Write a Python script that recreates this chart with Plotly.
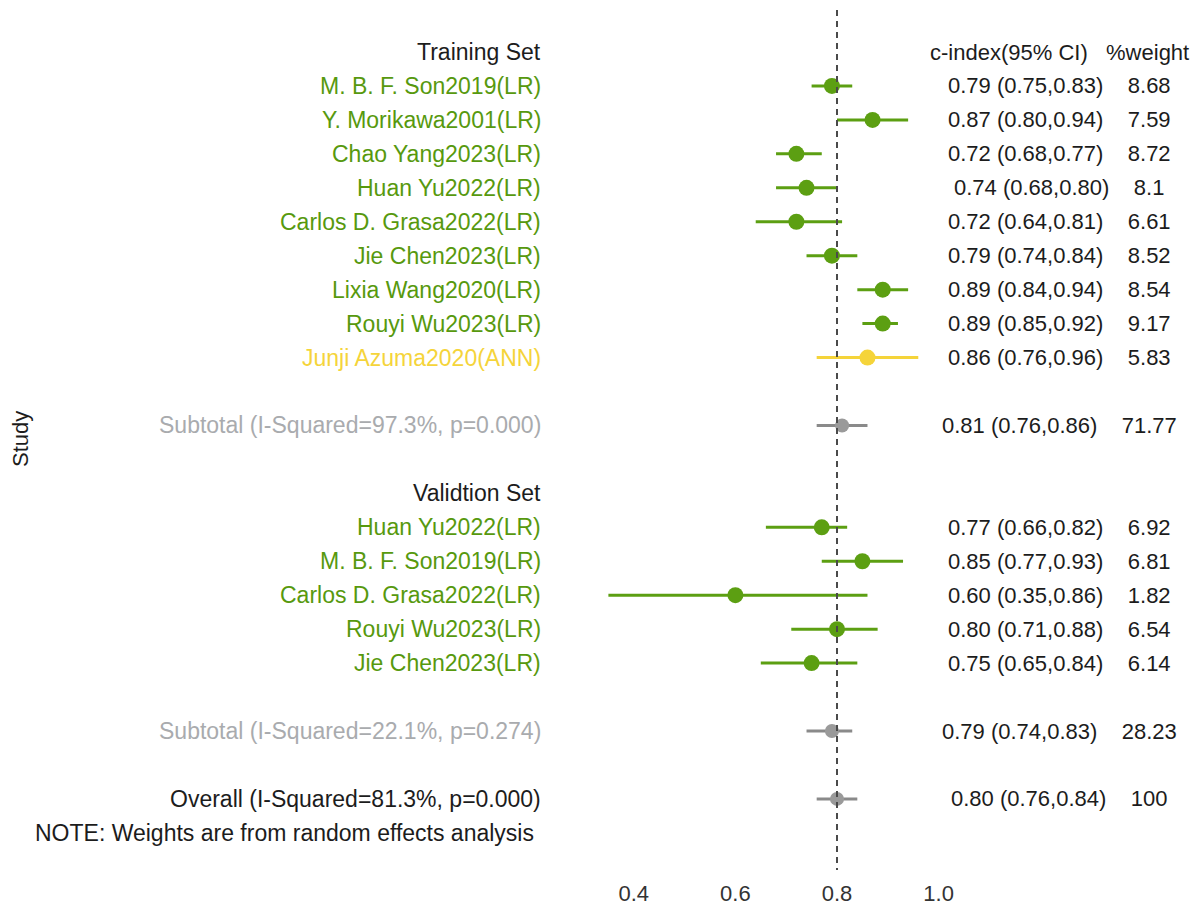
import plotly.graph_objects as go

# ---------------- data ----------------
train_studies = ["M. B. F. Son2019(LR)", "Y. Morikawa2001(LR)", "Chao Yang2023(LR)",
                 "Huan Yu2022(LR)", "Carlos D. Grasa2022(LR)", "Jie Chen2023(LR)",
                 "Lixia Wang2020(LR)", "Rouyi Wu2023(LR)", "Junji Azuma2020(ANN)"]
train_model = ["LR", "LR", "LR", "LR", "LR", "LR", "LR", "LR", "ANN"]
train_est = [0.79, 0.87, 0.72, 0.74, 0.72, 0.79, 0.89, 0.89, 0.86]
train_lo = [0.75, 0.80, 0.68, 0.68, 0.64, 0.74, 0.84, 0.85, 0.76]
train_hi = [0.83, 0.94, 0.77, 0.80, 0.81, 0.84, 0.94, 0.92, 0.96]
train_w = [8.68, 7.59, 8.72, 8.1, 6.61, 8.52, 8.54, 9.17, 5.83]

valid_studies = ["Huan Yu2022(LR)", "M. B. F. Son2019(LR)", "Carlos D. Grasa2022(LR)",
                 "Rouyi Wu2023(LR)", "Jie Chen2023(LR)"]
valid_model = ["LR", "LR", "LR", "LR", "LR"]
valid_est = [0.77, 0.85, 0.60, 0.80, 0.75]
valid_lo = [0.66, 0.77, 0.35, 0.71, 0.65]
valid_hi = [0.82, 0.93, 0.86, 0.88, 0.84]
valid_w = [6.92, 6.81, 1.82, 6.54, 6.14]

sub_labels = ["Subtotal (I-Squared=97.3%, p=0.000)", "Subtotal (I-Squared=22.1%, p=0.274)"]
sub_est = [0.81, 0.79]
sub_lo = [0.76, 0.74]
sub_hi = [0.86, 0.83]
sub_w = [71.77, 28.23]

overall_label = "Overall (I-Squared=81.3%, p=0.000)"
overall_est = 0.80
overall_lo = 0.76
overall_hi = 0.84
overall_w = 100

x_ticks = [0.4, 0.6, 0.8, 1.0]
x_ticktext = ["0.4", "0.6", "0.8", "1.0"]
ref_value = 0.8

# ---------------- styles ----------------
FONT = "Liberation Sans, Arial, sans-serif"
FS_LEFT = 23
FS_RIGHT = 22
FS_TICK = 22
GREEN = "#5c9f12"
GREEN_TXT = "#57990e"
YELLOW = "#f5d43a"
GREY_MK = "#9a9a9a"
GREY_LINE = "#8a8a8a"
GREY_TXT = "#a9abae"
BLACK = "#1c1c1c"
model_color = {"LR": GREEN, "ANN": YELLOW}
model_txt = {"LR": GREEN_TXT, "ANN": YELLOW}

# ---------------- row layout ----------------
rows = []
r = 0
rows.append(dict(y=r, label="Training Set", lcol=BLACK,
                 right="c-index(95% CI)" + "\u00a0" * 3 + "%weight"))
for i in range(len(train_studies)):
    r += 1
    rows.append(dict(y=r, label=train_studies[i], lcol=model_txt[train_model[i]],
                     est=train_est[i], lo=train_lo[i], hi=train_hi[i], w=train_w[i],
                     mcol=model_color[train_model[i]], kind="study"))
r += 2
rows.append(dict(y=r, label=sub_labels[0], lcol=GREY_TXT, est=sub_est[0], lo=sub_lo[0],
                 hi=sub_hi[0], w=sub_w[0], mcol=GREY_MK, kind="sub"))
r += 2
rows.append(dict(y=r, label="Validtion Set", lcol=BLACK))
for i in range(len(valid_studies)):
    r += 1
    rows.append(dict(y=r, label=valid_studies[i], lcol=model_txt[valid_model[i]],
                     est=valid_est[i], lo=valid_lo[i], hi=valid_hi[i], w=valid_w[i],
                     mcol=model_color[valid_model[i]], kind="study"))
r += 2
rows.append(dict(y=r, label=sub_labels[1], lcol=GREY_TXT, est=sub_est[1], lo=sub_lo[1],
                 hi=sub_hi[1], w=sub_w[1], mcol=GREY_MK, kind="sub"))
r += 2
rows.append(dict(y=r, label=overall_label, lcol=BLACK, est=overall_est, lo=overall_lo,
                 hi=overall_hi, w=overall_w, mcol=GREY_MK, kind="sub"))
r += 1
note_row = r

fig = go.Figure()

groups = {}
for row in rows:
    if "est" not in row:
        continue
    key = (row["mcol"], row["kind"])
    groups.setdefault(key, []).append(row)

for (col, kind), items in groups.items():
    lcol = GREY_LINE if kind == "sub" else col
    fig.add_trace(go.Scatter(
        x=[it["est"] for it in items],
        y=[it["y"] for it in items],
        mode="markers",
        marker=dict(color=col, size=16 if kind == "study" else 14, symbol="circle",
                    line=dict(width=0)),
        error_x=dict(type="data", symmetric=False,
                     array=[it["hi"] - it["est"] for it in items],
                     arrayminus=[it["est"] - it["lo"] for it in items],
                     color=lcol, thickness=3, width=0),
        showlegend=False, hoverinfo="skip",
    ))

annotations = []
LEFT_X = 543 / 1200
RIGHT_X = 1059 / 1200
for row in rows:
    annotations.append(dict(x=LEFT_X, xref="paper", y=row["y"], yref="y", text=row["label"],
                            xanchor="right", yanchor="middle", showarrow=False,
                            font=dict(family=FONT, size=FS_LEFT, color=row["lcol"])))
    if "right" in row:
        rtxt = row["right"]
    elif "est" in row:
        rtxt = f"{row['est']:.2f} ({row['lo']:.2f},{row['hi']:.2f})" + "\u00a0" * 4 + f"{row['w']:g}"
    else:
        rtxt = None
    if rtxt:
        annotations.append(dict(x=RIGHT_X, xref="paper", y=row["y"], yref="y", text=rtxt,
                                xanchor="center", yanchor="middle", showarrow=False,
                                font=dict(family=FONT, size=FS_RIGHT, color=BLACK)))

annotations.append(dict(x=33 / 1200, xref="paper", y=note_row, yref="y",
                        text="NOTE: Weights are from random effects analysis",
                        xanchor="left", yanchor="middle", showarrow=False,
                        font=dict(family=FONT, size=FS_LEFT, color=BLACK)))
annotations.append(dict(x=20 / 1200, xref="paper", y=0.5, yref="paper", text="Study",
                        textangle=-90, xanchor="center", yanchor="middle", showarrow=False,
                        font=dict(family=FONT, size=FS_RIGHT, color=BLACK)))

PX_PER_UNIT = 508.0
X0 = ref_value - 837 / PX_PER_UNIT
X1 = ref_value + (1200 - 837) / PX_PER_UNIT
ROW_PX = 33.95
PLOT_H = 878
Y_TOP = -52 / ROW_PX
Y_BOT = Y_TOP + PLOT_H / ROW_PX

fig.add_shape(type="line", xref="x", yref="paper", x0=ref_value, x1=ref_value,
              y0=1 - 10 / PLOT_H, y1=1 - 870 / PLOT_H, layer="above",
              line=dict(color="#4a4a4a", width=2, dash="6px,5px"))

fig.update_layout(
    width=1200, height=909,
    margin=dict(l=0, r=0, t=0, b=909 - PLOT_H),
    paper_bgcolor="white", plot_bgcolor="white",
    annotations=annotations,
    showlegend=False,
    xaxis=dict(range=[X0, X1], tickvals=x_ticks, ticktext=x_ticktext, showgrid=False,
               zeroline=False, showline=False, ticks="",
               tickfont=dict(family=FONT, size=FS_TICK, color="#333333"), fixedrange=True),
    yaxis=dict(range=[Y_BOT, Y_TOP], visible=False, showgrid=False, zeroline=False,
               fixedrange=True),
)

fig.write_html("out.html")
